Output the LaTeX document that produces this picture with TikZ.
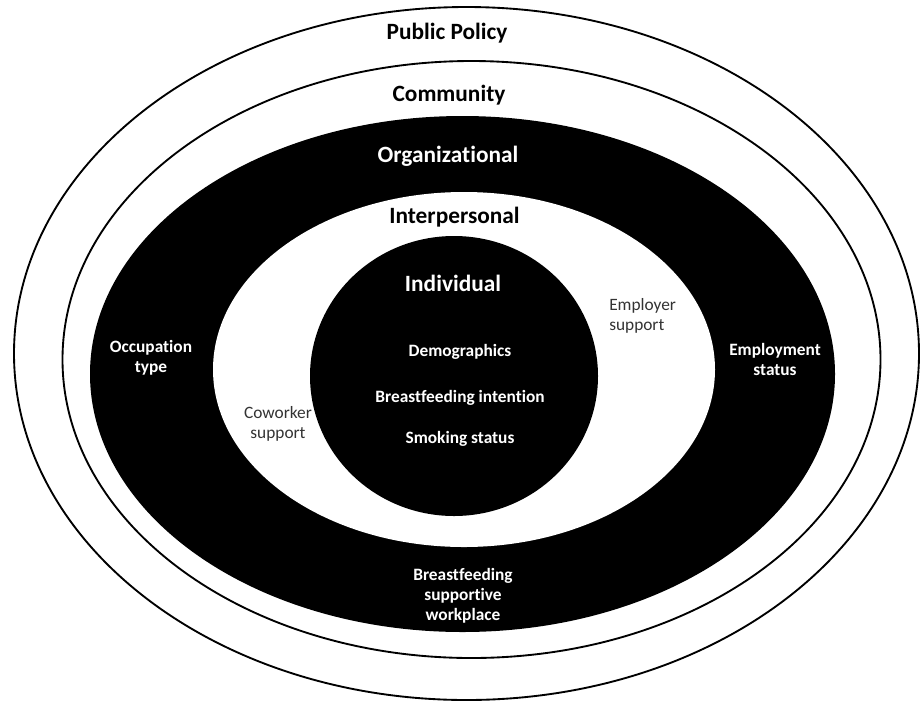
\documentclass[tikz,border=0pt]{standalone}
\usepackage{fontspec}
\setmainfont{Carlito}[Ligatures=NoCommon]
\usetikzlibrary{positioning}
\newcommand\lvlfont{\fontsize{17.5}{21}\selectfont\bfseries}
\newcommand\itemfont{\fontsize{13}{15}\selectfont\bfseries}
\newcommand\notefont{\fontsize{13}{15}\selectfont}

\begin{document}
\begin{tikzpicture}[x=0.75pt,y=-0.75pt,
    ring/.style={draw=black,line width=1.4pt},
    level/.style={font=\lvlfont,anchor=base,inner sep=0pt},
    factor/.style={font=\itemfont,text=white,align=center,inner sep=0pt},
    support/.style={font=\notefont,text=black!80,align=center,inner sep=0pt}]
    \useasboundingbox (0,0) rectangle (920,704);
    % nested levels, outside in
    \draw[ring] (466.5,353.5) ellipse [x radius=452.5,y radius=346.5];
    \draw[ring] (471.5,359.5) ellipse [x radius=409,y radius=298.5];
    \fill[black] (462.5,374) ellipse [x radius=372.5,y radius=258];
    \fill[white] (464,369.5) ellipse [x radius=251,y radius=177.5];
    \fill[black] (454,376) ellipse [x radius=144,y radius=140];
    % level names
    \node[level]            (policy)  at (447,39)  {Public Policy};
    \node[level]            (commun)  at (449,101) {Community};
    \node[level,text=white] (organiz) at (448,162) {Organizational};
    \node[level]            (interp)  at (454.5,223) {Interpersonal};
    \node[level,text=white] (indiv)   at (453,291) {Individual};
    % factors
    \node[factor,anchor=base] (demo)    at (460,356) {Demographics};
    \node[factor,anchor=base] (intent)  at (460,402) {Breastfeeding intention};
    \node[factor,anchor=base] (smoking) at (460,443) {Smoking status};
    \node[support,align=left,anchor=west] (employer) at (609,316) {Employer\\support};
    \node[support] (coworker) at (278,424) {Coworker\\support};
    \node[factor]  (occup)    at (151,358) {Occupation\\type};
    \node[factor]  (employ)   at (775,359) {Employment\\status};
    \node[factor]  (workplace) at (463,595.5) {Breastfeeding\\supportive\\workplace};
\end{tikzpicture}
\end{document}
